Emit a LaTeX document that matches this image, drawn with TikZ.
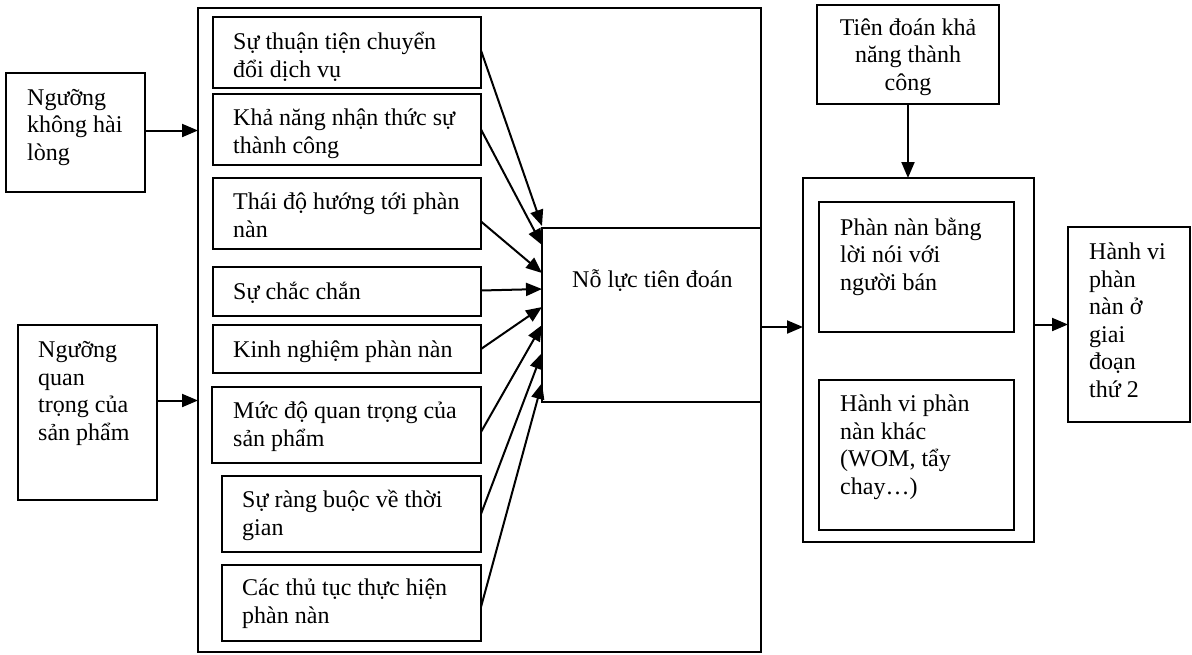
\documentclass[tikz,border=0pt]{standalone}
\usepackage{fontspec}
\setmainfont{Liberation Serif}
\usetikzlibrary{arrows.meta,calc}
\tikzset{
  bx/.style={draw,line width=1.8pt,inner sep=0pt,outer sep=0pt},
  thinbx/.style={draw,line width=1.4pt,inner sep=0pt,outer sep=0pt},
  txt/.style={anchor=base west,align=left,inner sep=0pt,font=\fontsize{24}{27.5}\selectfont},
  ctxt/.style={anchor=base,align=center,inner sep=0pt,font=\fontsize{24}{27.5}\selectfont},
  arr/.style={line width=2pt,-{Triangle[length=16pt,width=13pt]}}
}
\begin{document}
\begin{tikzpicture}[x=1pt,y=-1pt]
\useasboundingbox (0,0) rectangle (1192,654);
% outer group
\node[thinbx,minimum width=563pt,minimum height=644pt] (OUT) at (479.5,330) {};
% left inputs (anchor = baseline of last line)
\node[bx,minimum width=139pt,minimum height=119pt] (KHL) at (75.5,132.5) {};
\node[txt] (tKHL) at (27,160) {Ngưỡng\\không hài\\lòng};
\node[bx,minimum width=139pt,minimum height=175pt] (QT) at (87.5,412.5) {};
\node[txt] (tQT) at (38,440) {Ngưỡng\\quan\\trọng của\\sản phẩm};
% factor boxes
\node[bx,minimum width=268pt,minimum height=71pt] (b1) at (347,52.5) {};
\node[txt] (t1) at (233,77) {Sự thuận tiện chuyển\\đổi dịch vụ};
\node[bx,minimum width=268pt,minimum height=71pt] (b2) at (347,129.5) {};
\node[txt] (t2) at (233,153) {Khả năng nhận thức sự\\thành công};
\node[bx,minimum width=268pt,minimum height=71pt] (b3) at (347,213.5) {};
\node[txt] (t3) at (233,237) {Thái độ hướng tới phàn\\nàn};
\node[bx,minimum width=268pt,minimum height=49pt] (b4) at (347,291.5) {};
\node[txt] (t4) at (233,299) {Sự chắc chắn};
\node[bx,minimum width=268pt,minimum height=48pt] (b5) at (347,349) {};
\node[txt] (t5) at (233,357) {Kinh nghiệm phàn nàn};
\node[bx,minimum width=269pt,minimum height=76pt] (b6) at (346.5,425) {};
\node[txt] (t6) at (233,446) {Mức độ quan trọng của\\sản phẩm};
\node[bx,minimum width=259pt,minimum height=76pt] (b7) at (351.5,514) {};
\node[txt] (t7) at (242,535) {Sự ràng buộc về thời\\gian};
\node[bx,minimum width=259pt,minimum height=76pt] (b8) at (351.5,603) {};
\node[txt] (t8) at (242,623) {Các thủ tục thực hiện\\phàn nàn};
% central
\node[thinbx,minimum width=219pt,minimum height=174pt] (NL) at (651.5,315) {};
\node[txt] (tNL) at (572,287) {Nỗ lực tiên đoán};
% top right
\node[bx,minimum width=182pt,minimum height=99pt] (TD) at (908,54.5) {};
\node[ctxt] (tTD) at (908,90) {Tiên đoán khả\\năng thành\\công};
% right group
\node[bx,minimum width=231pt,minimum height=364pt] (G) at (918.5,360) {};
\node[bx,minimum width=195pt,minimum height=130pt] (P) at (916.5,267) {};
\node[txt] (tP) at (840,290) {Phàn nàn bằng\\lời nói với\\người bán};
\node[bx,minimum width=195pt,minimum height=150pt] (H) at (916.5,455) {};
\node[txt] (tH) at (840,494) {Hành vi phàn\\nàn khác\\(WOM, tẩy\\chay…)};
% final
\node[bx,minimum width=122pt,minimum height=195pt] (F) at (1129,324.5) {};
\node[txt] (tF) at (1089,397) {Hành vi\\phàn\\nàn ở\\giai\\đoạn\\thứ 2};
% connector end points
\coordinate (kA) at ($(KHL.east)+(0,-2)$);
\coordinate (qA) at ($(QT.east)+(0,-12)$);
\coordinate (nA) at ($(NL.east)+(0,12)$);
\coordinate (s1) at ($(b1.east)+(0,-2)$);
\coordinate (s3) at ($(b3.east)+(0,8)$);
\coordinate (s4) at ($(b4.east)+(0,-1)$);
\coordinate (s6) at ($(b6.east)+(0,7)$);
\coordinate (s8) at ($(b8.east)+(0,4)$);
\coordinate (e1) at ($(NL.north west)+(0,-2)$);
\coordinate (e2) at ($(NL.north west)+(0,17)$);
\coordinate (e3) at ($(NL.north west)+(0,45)$);
\coordinate (e4) at ($(NL.north west)+(0,61)$);
\coordinate (e5) at ($(NL.north west)+(0,79)$);
\coordinate (e6) at ($(NL.north west)+(0,97)$);
\coordinate (e7) at ($(NL.north west)+(0,125)$);
\coordinate (e8) at ($(NL.north west)+(0,155)$);
% connectors
\draw[arr] (kA) -- (kA -| OUT.west);
\draw[arr] (qA) -- (qA -| OUT.west);
\draw[arr] (s1) -- (e1);
\draw[arr] (b2.east) -- (e2);
\draw[arr] (s3) -- (e3);
\draw[arr] (s4) -- (e4);
\draw[arr] (b5.east) -- (e5);
\draw[arr] (s6) -- (e6);
\draw[arr] (b7.east) -- (e7);
\draw[arr] (s8) -- (e8);
\draw[arr] (nA) -- (nA -| G.west);
\draw[arr] (TD.south) -- (TD.south |- G.north);
\draw[arr] (G.east |- F.west) -- (F.west);
\end{tikzpicture}
\end{document}
